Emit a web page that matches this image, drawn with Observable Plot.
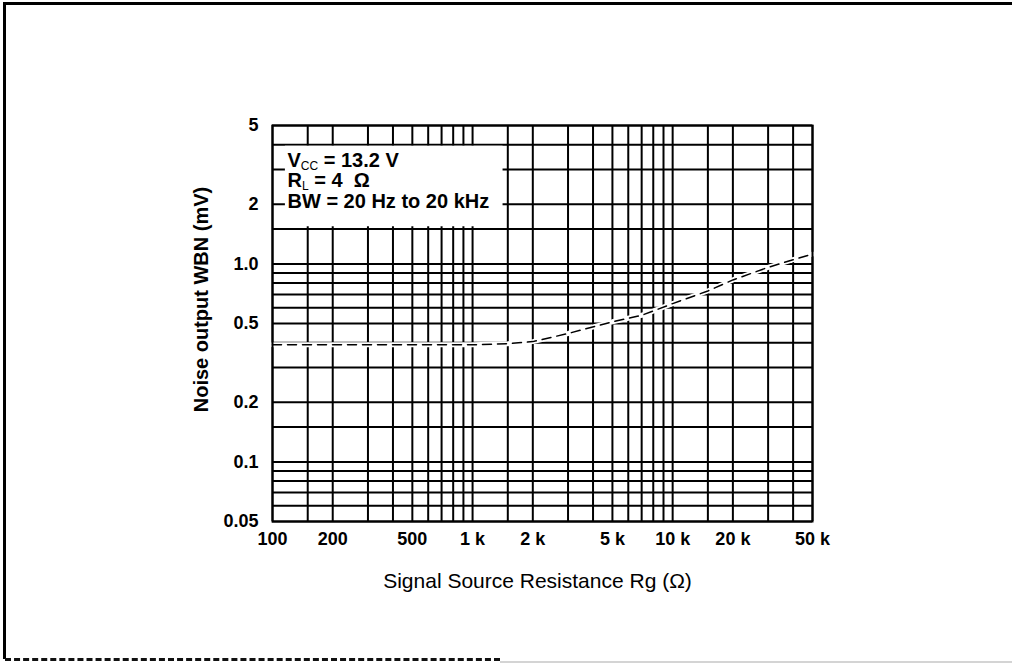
<!DOCTYPE html>
<html><head><meta charset="utf-8">
<script src="https://cdn.jsdelivr.net/npm/d3@7"></script>
<script src="https://cdn.jsdelivr.net/npm/@observablehq/plot@0.6"></script>
<style>
html,body{margin:0;padding:0;background:#fff;}
#wrap{position:relative;width:1012px;height:663px;overflow:hidden;background:#fff;}
#wrap svg{position:absolute;left:0;top:0;}
.bt{position:absolute;left:3px;top:2px;width:1009px;height:3px;background:#000;}
.bl{position:absolute;left:3px;top:2px;width:3px;height:657px;background:#000;}
.bb{position:absolute;left:5px;top:658px;width:495px;height:0;border-top:3px dashed #111;}
.bg{position:absolute;left:500px;top:661px;width:512px;height:2px;background:#d4d4d4;}
</style></head><body><div id="wrap"></div>
<script>
// Curve: noise output vs signal source resistance
const rg  = [100, 150, 200, 300, 500, 700, 1000, 1500, 2000, 3000, 5000, 7000, 10000, 15000, 20000, 30000, 40000, 50000];
const wbn = [0.39, 0.39, 0.39, 0.39, 0.39, 0.39, 0.39, 0.395, 0.405, 0.445, 0.51, 0.55, 0.63, 0.73, 0.83, 0.96, 1.05, 1.12];

// Axis ticks and labels
const xTicks = [100, 200, 500, 1000, 2000, 5000, 10000, 20000, 50000];
const xTickLabels = ["100", "200", "500", "1 k", "2 k", "5 k", "10 k", "20 k", "50 k"];
const yTicks = [0.05, 0.1, 0.2, 0.5, 1, 2, 5];
const yTickLabels = ["0.05", "0.1", "0.2", "0.5", "1.0", "2", "5"];

// Grid lines
const xGrid = [100,150,200,300,400,500,600,700,800,900,1000,1500,2000,3000,4000,5000,6000,7000,8000,9000,10000,15000,20000,30000,40000,50000];
const yGrid = [0.05,0.06,0.07,0.08,0.09,0.1,0.15,0.2,0.3,0.4,0.5,0.6,0.7,0.8,0.9,1,1.5,2,3,4,5];

// Conditions note
const noteMain = ["V", "R", "BW = 20 Hz to 20 kHz"];
const noteSub  = ["CC", "L", ""];
const noteRest = [" = 13.2 V", " = 4  \u03A9", ""];

const xLabel = "Signal Source Resistance Rg (\u03A9)";
const yLabel = "Noise output WBN (mV)";

const data = rg.map((r, i) => ({rg: r, wbn: wbn[i]}));
const noteText = noteMain.map((m, i) => m + noteSub[i] + noteRest[i]);
const noteBox = [{x1: 116, x2: 1420, y1: 1.54, y2: 3.93}];

const FONT = "'Liberation Sans', Arial, Helvetica, sans-serif";

const marks = [
  Plot.ruleX(xGrid, {stroke: "#000", strokeWidth: 2}),
  Plot.ruleY(yGrid, {stroke: "#000", strokeWidth: 2}),
  Plot.rect(noteBox, {x1: "x1", x2: "x2", y1: "y1", y2: "y2", fill: "#fff"}),
  Plot.line(data, {x: "rg", y: "wbn", stroke: "#fff", strokeWidth: 5}),
  Plot.line(data, {x: "rg", y: "wbn", stroke: "#000", strokeWidth: 1.5, strokeDasharray: "9,6"}),
  Plot.frame({stroke: "#000", strokeWidth: 2}),
  Plot.text(xTicks, {x: d => d, frameAnchor: "bottom", text: (d, i) => xTickLabels[i], dy: 18, lineAnchor: "middle", fontSize: 18, fontWeight: "bold"}),
  Plot.text(yTicks, {y: d => d, frameAnchor: "left", textAnchor: "end", text: (d, i) => yTickLabels[i], dx: -14, lineAnchor: "middle", fontSize: 18, fontWeight: "bold"}),
  Plot.text([xLabel], {frameAnchor: "bottom", text: d => d, textAnchor: "middle", dx: -5, dy: 60, fontSize: 21, lineAnchor: "middle"}),
  Plot.text([yLabel], {frameAnchor: "left", text: d => d, textAnchor: "middle", rotate: -90, dx: -71, dy: -24, fontSize: 20, fontWeight: "bold", lineAnchor: "middle"})
];
noteText.forEach((t, i) => {
  marks.push(Plot.text([t], {frameAnchor: "top-left", text: d => d, textAnchor: "start", lineAnchor: "middle", dx: 15, dy: 35 + i * 20.5, fontSize: 20, fontWeight: "bold"}));
});

const svg = Plot.plot({
  width: 1012,
  height: 663,
  marginLeft: 272,
  marginRight: 200,
  marginTop: 125,
  marginBottom: 142,
  style: {fontFamily: FONT, fontSize: "18px", background: "transparent", color: "#000"},
  x: {type: "log", domain: [100, 50000], axis: null},
  y: {type: "log", domain: [0.05, 5], axis: null},
  marks
});

// subscripts in the conditions note
d3.select(svg).selectAll("text").each(function() {
  const idx = noteText.indexOf(this.textContent);
  if (idx < 0 || !noteSub[idx]) return;
  const t = d3.select(this);
  t.text(null);
  t.append("tspan").text(noteMain[idx]);
  t.append("tspan").attr("font-size", 12).attr("font-weight", "normal").attr("dy", 3).text(noteSub[idx]);
  t.append("tspan").attr("dy", -3).text(noteRest[idx]);
});

const wrap = document.getElementById("wrap");
wrap.appendChild(svg);
["bt", "bl", "bb", "bg"].forEach(c => { const d = document.createElement("div"); d.className = c; wrap.appendChild(d); });
</script>
</body></html>
